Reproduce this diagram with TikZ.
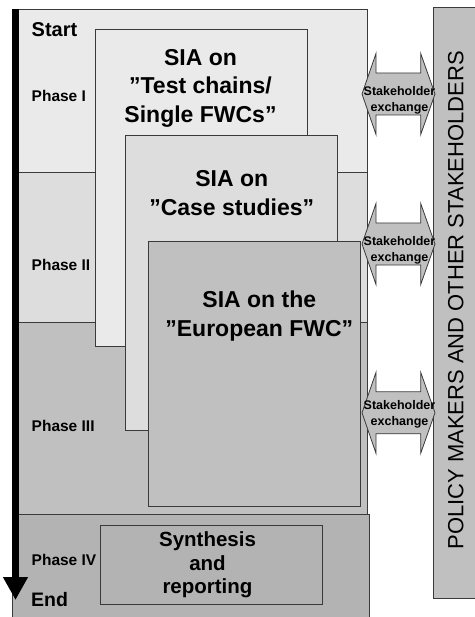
\documentclass[tikz,border=0pt]{standalone}
\usepackage{fontspec}
\setmainfont{Liberation Sans}
\usetikzlibrary{arrows.meta}
\definecolor{phaseA}{HTML}{EAEAEA}
\definecolor{phaseB}{HTML}{DDDDDD}
\definecolor{phaseC}{HTML}{C0C0C0}
\definecolor{phaseD}{HTML}{B3B3B3}
\definecolor{stakefill}{HTML}{C0C0C0}
\definecolor{edge}{HTML}{3A3A3A}

% double-headed "Stakeholder exchange" arrow centred at height #1,
% its text centred at height #2
\newcommand\stakearrow[3]{%
  \begin{scope}[shift={(0,#1)}]
    \draw[exchangearrow] (362,0) -- (376,-40.5) -- (376,-21) -- (420.7,-21)
      -- (420.7,-40.5) -- (435,0) -- (420.7,40.5) -- (420.7,21) -- (376,21)
      -- (376,40.5) -- cycle;
  \end{scope}
  \node[exchangetext] (#3) at (399.5,#2) {Stakeholder\\exchange};%
}

\begin{document}
\begin{tikzpicture}[x=1pt,y=-1pt,
  region/.style={draw=edge, line width=0.8pt, inner sep=0pt, outer sep=0pt, anchor=north west},
  phaselabel/.style={anchor=base west, inner sep=0pt, font=\bfseries\fontsize{15.5}{18}\selectfont},
  boxtext/.style={align=center, inner sep=0pt, font=\bfseries\fontsize{23}{28.5}\selectfont},
  syntext/.style={align=center, inner sep=0pt, font=\bfseries\fontsize{20.5}{23.5}\selectfont},
  exchangearrow/.style={draw=edge, line width=0.8pt, fill=stakefill, line join=miter},
  exchangetext/.style={align=center, inner sep=0pt, font=\bfseries\fontsize{12.5}{16}\selectfont},
]
\useasboundingbox (0,0) rectangle (474,617);

% phase bands
\node[region, fill=phaseA, minimum width=355.3, minimum height=162.5] (band1) at (12,9.5) {};
\node[region, fill=phaseB, minimum width=355.3, minimum height=150] (band2) at (12,172) {};
\node[region, fill=phaseC, minimum width=355.3, minimum height=192] (band3) at (12,322) {};
\node[region, fill=phaseD, minimum width=357, minimum height=110] (band4) at (12,514) {};

% stacked analysis boxes
\node[region, fill=phaseA, minimum width=212, minimum height=317.4] (sia1) at (95.7,29.3) {};
\node[region, fill=phaseB, minimum width=211.6, minimum height=294.7] (sia2) at (125.7,135.3) {};
\node[region, fill=phaseC, minimum width=211.7, minimum height=264.7] (sia3) at (148.3,241.3) {};
\node[region, fill=phaseD, minimum width=222, minimum height=78.7] (synth) at (100,525.3) {};

\node[boxtext] (sia1txt) at (200.5,88.4) {SIA on\\”Test chains/\\Single FWCs”};
\node[boxtext] (sia2txt) at (231.7,193.1) {SIA on\\”Case studies”};
\node[boxtext] (sia3txt) at (259.3,315.9) {SIA on the\\”European FWC”};
\node[syntext] (synthtxt) at (207.5,565) {Synthesis\\and\\reporting};

% stakeholder column
\node[region, fill=stakefill, minimum width=42, minimum height=590.7] (policy) at (433.7,7.3) {};
\node[rotate=90, inner sep=0pt, font=\fontsize{22}{26}\selectfont] (policytxt) at (455.7,300.4)
  {POLICY MAKERS AND OTHER STAKEHOLDERS};

% exchange arrows
\stakearrow{94}{100.5}{ex1}
\stakearrow{244}{250.7}{ex2}
\stakearrow{412.8}{413.8}{ex3}

% time axis
\coordinate (tstart) at (15.5,9.3);
\coordinate (tend) at (15.5,600);
\draw[line width=7pt, -{Triangle[width=23.5pt,length=23pt]}] (tstart) -- (tend);

% phase labels
\node[phaselabel, font=\bfseries\fontsize{20}{24}\selectfont] (start) at (31.5,36.7) {Start};
\node[phaselabel] (ph1) at (31.5,102) {Phase I};
\node[phaselabel] (ph2) at (31.5,270) {Phase II};
\node[phaselabel] (ph3) at (31.5,431.7) {Phase III};
\node[phaselabel] (ph4) at (31.5,565) {Phase IV};
\node[phaselabel, font=\bfseries\fontsize{19.5}{24}\selectfont] (end) at (31,606.7) {End};
\end{tikzpicture}
\end{document}
